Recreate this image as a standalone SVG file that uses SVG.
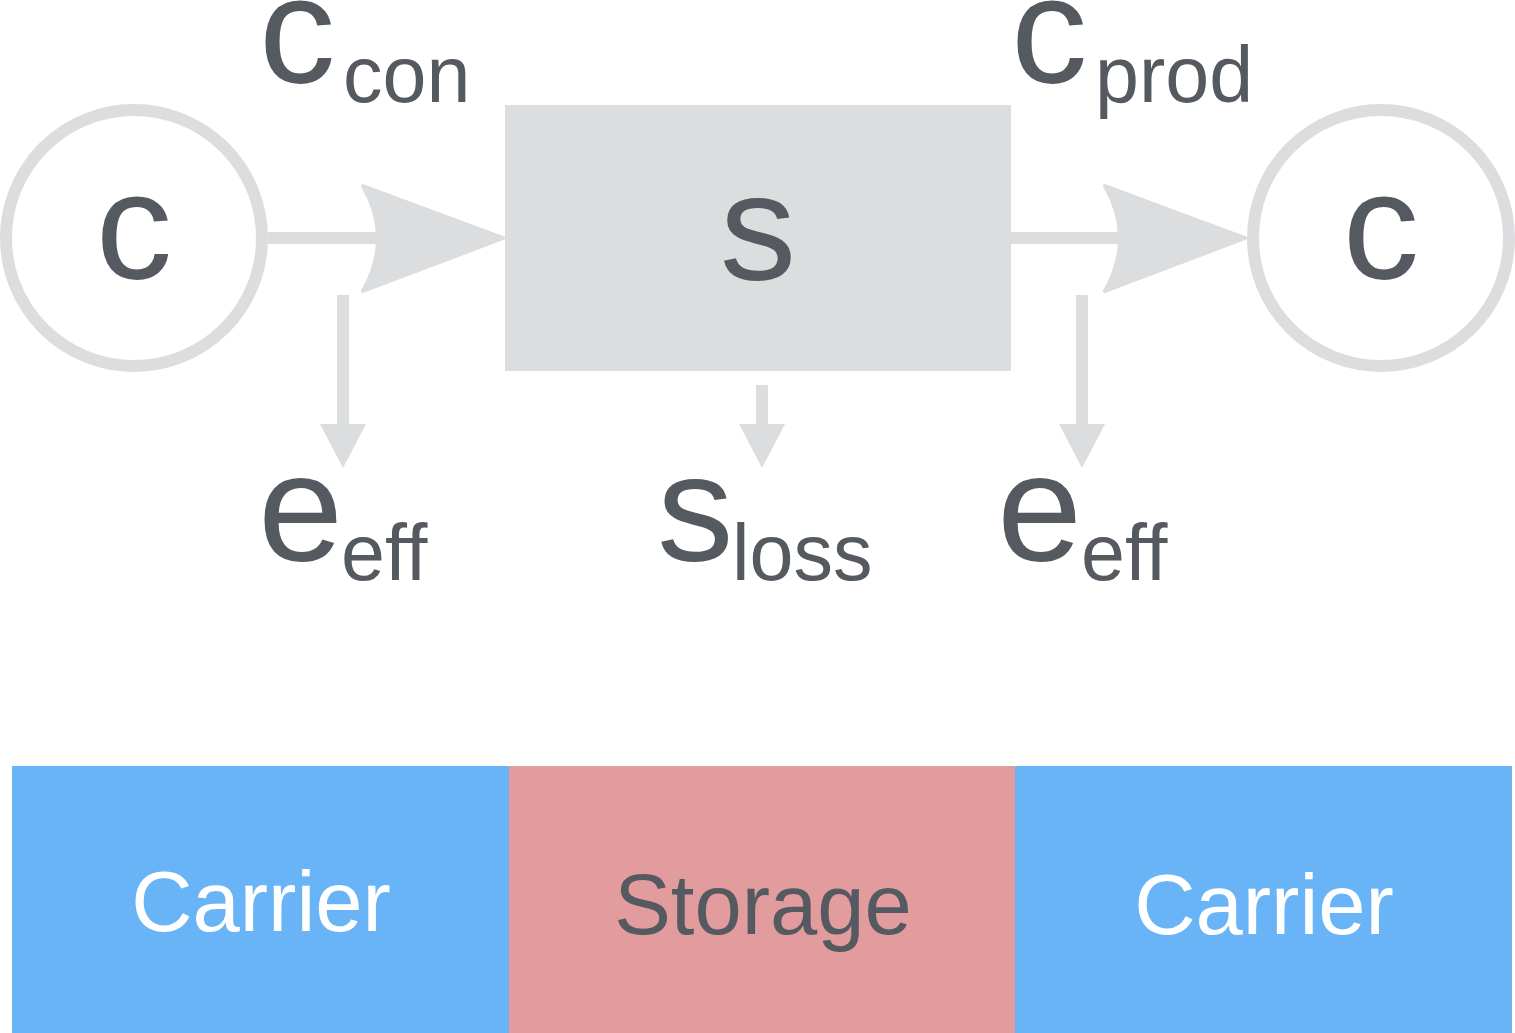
<svg xmlns="http://www.w3.org/2000/svg" width="1515" height="1033" viewBox="0 0 1515 1033">
<style>
.t{font-family:"Liberation Sans",Arial,sans-serif;fill:#555a60}
.big{font-size:153px}
.sub{font-size:79px}
.gray{fill:#dcdddf}
.ring{fill:#fff;stroke:#dcdddf;stroke-width:12}
.ln{stroke:#dcdddf;stroke-width:12;fill:none}
.lbl{font-family:"Liberation Sans",Arial,sans-serif;font-size:85px;text-anchor:middle}
</style>
<defs>
<path id="headR" d="M-140,-52 Q-110,0 -140,53 L0,0 Z" fill="#dcdddf" stroke="#dcdddf" stroke-width="4" stroke-linejoin="round"/>
<path id="headD" d="M-23,0 L23,0 L0,44 Z" fill="#dcdddf"/>
</defs>
<g id="connectors">
<line class="ln" x1="268" y1="238" x2="382" y2="238"/>
<use href="#headR" x="503" y="238"/>
<line class="ln" x1="1011" y1="238" x2="1124" y2="238"/>
<use href="#headR" x="1245" y="238"/>
<line class="ln" x1="343" y1="295" x2="343" y2="425"/>
<use href="#headD" x="343" y="424"/>
<line class="ln" x1="762" y1="385" x2="762" y2="425"/>
<use href="#headD" x="762" y="424"/>
<line class="ln" x1="1082" y1="295" x2="1082" y2="425"/>
<use href="#headD" x="1082" y="424"/>
</g>
<g id="node-carrier-left">
<circle class="ring" cx="134" cy="238" r="128"/>
<text class="t big" x="134" y="279" text-anchor="middle">c</text>
</g>
<g id="node-storage">
<rect class="gray" x="505" y="105" width="506" height="266"/>
<text class="t big" x="758" y="280" text-anchor="middle">s</text>
</g>
<g id="node-carrier-right">
<circle class="ring" cx="1381" cy="238" r="128"/>
<text class="t big" x="1381" y="279" text-anchor="middle">c</text>
</g>
<g id="label-ccon">
<text class="t big" x="259" y="83">c</text>
<text class="t sub" x="343" y="102">con</text>
</g>
<g id="label-cprod">
<text class="t big" x="1011" y="83">c</text>
<text class="t sub" x="1095" y="102">prod</text>
</g>
<g id="label-eeff-left">
<text class="t big" x="258" y="561">e</text>
<text class="t sub" x="341" y="580">eff</text>
</g>
<g id="label-sloss">
<text class="t big" x="657" y="561">s</text>
<text class="t sub" x="732" y="580">loss</text>
</g>
<g id="label-eeff-right">
<text class="t big" x="997" y="561">e</text>
<text class="t sub" x="1081" y="580">eff</text>
</g>
<g id="legend-carrier-left">
<rect x="12" y="766" width="497" height="267" fill="#68b4f7"/>
<text class="lbl" x="261" y="931" fill="#ffffff">Carrier</text>
</g>
<g id="legend-storage">
<rect x="509" y="766" width="506" height="267" fill="#e39c9e"/>
<text class="lbl" x="763" y="934" fill="#555a60">Storage</text>
</g>
<g id="legend-carrier-right">
<rect x="1015" y="766" width="497" height="267" fill="#68b4f7"/>
<text class="lbl" x="1264" y="934" fill="#ffffff">Carrier</text>
</g>
</svg>
